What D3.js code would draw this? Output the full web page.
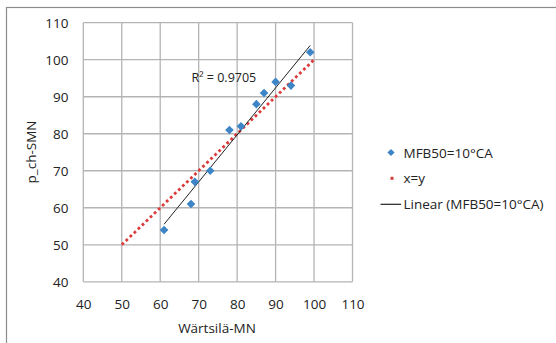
<!DOCTYPE html>
<html>
<head>
<meta charset="utf-8">
<script src="https://cdn.jsdelivr.net/npm/d3@7"></script>
<style>
  html, body { margin: 0; padding: 0; background: #fff; }
  svg { display: block; }
  text { font-family: "Open Sans", Lato, "Liberation Sans", sans-serif; fill: #222; }
</style>
</head>
<body>
<svg id="chart" width="556" height="343"></svg>
<script>
// ---- data ----
const xTicks = [40, 50, 60, 70, 80, 90, 100, 110];
const yTicks = [40, 50, 60, 70, 80, 90, 100, 110];
const wartsilaMN = [61, 68, 69, 73, 78, 81, 85, 87, 90, 94, 99];
const pchSMN     = [54, 61, 67, 70, 81, 82, 88, 91, 94, 93, 102];
const xyLineX = [50, 100];
const xyLineY = [50, 100];
const seriesName = "MFB50=10°CA";
const refName = "x=y";
const trendName = "Linear (MFB50=10°CA)";
const r2Label = "R² = 0.9705";
const xTitle = "Wärtsilä-MN";
const yTitle = "p_ch-SMN";

// ---- layout ----
const svg = d3.select("#chart");
const plot = { left: 83.3, right: 352.5, top: 22.7, bottom: 281.8 };
const x = d3.scaleLinear().domain([40, 110]).range([plot.left, plot.right]);
const y = d3.scaleLinear().domain([40, 110]).range([plot.bottom, plot.top]);
const FS = "13.5px";

// outer chart border (extends beyond image at right/bottom)
svg.append("rect")
  .attr("x", 6.5).attr("y", 7.5)
  .attr("width", 600).attr("height", 400)
  .attr("fill", "none").attr("stroke", "#8c8c8c").attr("stroke-width", 1.2);

// gridlines
const grid = svg.append("g").attr("stroke", "#b4b4b4").attr("stroke-width", 1.3);
xTicks.forEach(t => grid.append("line")
  .attr("x1", x(t)).attr("x2", x(t)).attr("y1", plot.top).attr("y2", plot.bottom));
yTicks.forEach(t => grid.append("line")
  .attr("x1", plot.left).attr("x2", plot.right).attr("y1", y(t)).attr("y2", y(t)));

// axes (labels only)
const xAxis = d3.axisBottom(x).tickValues(xTicks).tickSize(0).tickPadding(0);
const gx = svg.append("g").attr("transform", `translate(0,${plot.bottom})`).call(xAxis);
gx.select(".domain").remove();
gx.selectAll("text").attr("dy", null).attr("y", 27)
  .style("font-size", FS).attr("font-family", null).attr("fill", "#222");

const yAxis = d3.axisLeft(y).tickValues(yTicks).tickSize(0).tickPadding(0);
const gy = svg.append("g").attr("transform", `translate(68.5,0)`).call(yAxis);
gy.select(".domain").remove();
gy.selectAll("text").attr("dy", "0.35em").attr("x", 0)
  .style("font-size", FS).attr("font-family", null).attr("fill", "#222");

// axis titles
svg.append("text").attr("x", 217).attr("y", 333).attr("text-anchor", "middle")
  .style("font-size", FS).text(xTitle);
svg.append("text").attr("transform", "translate(36,152) rotate(-90)")
  .attr("text-anchor", "middle").style("font-size", FS).text(yTitle);

// x=y reference line
const line = d3.line().x(d => x(d[0])).y(d => y(d[1]));
svg.append("path")
  .datum(xyLineX.map((v, i) => [v, xyLineY[i]]))
  .attr("d", line)
  .attr("fill", "none").attr("stroke", "#dc3b3b").attr("stroke-width", 2.8)
  .attr("stroke-dasharray", "2.8,2.8");

// linear trendline (least squares)
const mx = d3.mean(wartsilaMN), my = d3.mean(pchSMN);
let sxy = 0, sxx = 0;
wartsilaMN.forEach((v, i) => { sxy += (v - mx) * (pchSMN[i] - my); sxx += (v - mx) ** 2; });
const slope = sxy / sxx, icpt = my - slope * mx;
const x0 = d3.min(wartsilaMN), x1 = d3.max(wartsilaMN);
svg.append("path")
  .datum([[x0, icpt + slope * x0], [x1, icpt + slope * x1]])
  .attr("d", line)
  .attr("fill", "none").attr("stroke", "#222").attr("stroke-width", 1);

// markers
const diamond = (cx, cy, r) => `M${cx},${cy - r}L${cx + r},${cy}L${cx},${cy + r}L${cx - r},${cy}Z`;
svg.append("g").selectAll("path")
  .data(wartsilaMN.map((v, i) => [v, pchSMN[i]]))
  .join("path")
  .attr("d", d => diamond(x(d[0]), y(d[1]), 4.3))
  .attr("fill", "#3d85c6");

// R² label
svg.append("text").attr("x", 191.5).attr("y", 81.5)
  .style("font-size", "12.5px").text(r2Label);

// legend
const lg = svg.append("g");
lg.append("path").attr("d", diamond(391, 152.5, 3.6)).attr("fill", "#3d85c6");
lg.append("text").attr("x", 403.5).attr("y", 157.5).style("font-size", FS).text(seriesName);
lg.append("rect").attr("x", 390.5).attr("y", 176.8).attr("width", 3).attr("height", 3).attr("fill", "#dc3b3b");
lg.append("text").attr("x", 403.5).attr("y", 183.3).style("font-size", FS).text(refName);
lg.append("line").attr("x1", 380.5).attr("x2", 401).attr("y1", 204.3).attr("y2", 204.3)
  .attr("stroke", "#222").attr("stroke-width", 1.2);
lg.append("text").attr("x", 403.5).attr("y", 209.3).style("font-size", FS).text(trendName);
</script>
</body>
</html>
